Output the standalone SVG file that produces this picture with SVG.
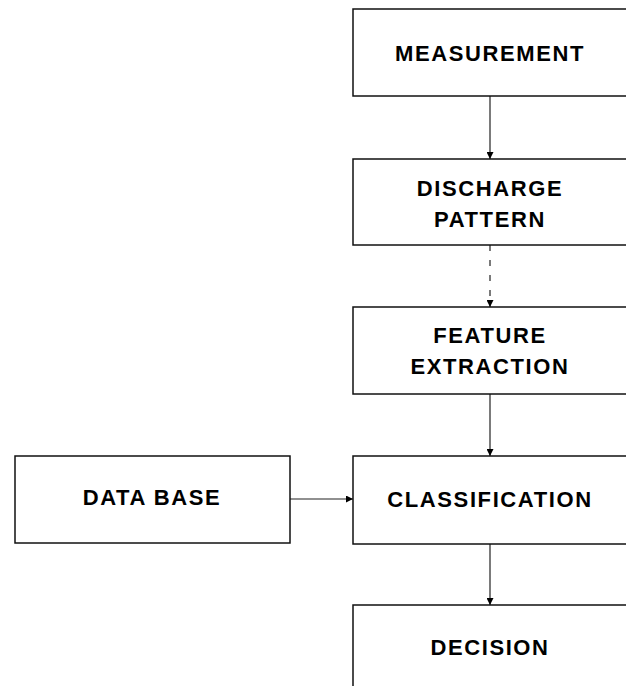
<svg xmlns="http://www.w3.org/2000/svg" width="626" height="686" viewBox="0 0 626 686">
<style>
.box{fill:#fff;stroke:#111;stroke-width:1.5}
.t{font-family:"Liberation Sans",Arial,sans-serif;font-weight:bold;font-size:22px;letter-spacing:1.6px;fill:#000;text-anchor:middle}
.c{stroke:#222;stroke-width:1.2;fill:none}
</style>
<defs>
<marker id="ah" viewBox="0 0 10 10" refX="10" refY="5" markerWidth="7" markerHeight="7" markerUnits="userSpaceOnUse" orient="auto">
<path d="M0,0 L10,5 L0,10 z" fill="#000"/>
</marker>
</defs>
<rect width="626" height="686" fill="#fff"/>
<g id="connectors">
<line class="c" x1="490" y1="96" x2="490" y2="159" marker-end="url(#ah)"/>
<line class="c" x1="490" y1="245" x2="490" y2="307" stroke-dasharray="6,9" marker-end="url(#ah)"/>
<line class="c" x1="490" y1="394" x2="490" y2="456" marker-end="url(#ah)"/>
<line class="c" x1="490" y1="544" x2="490" y2="605" marker-end="url(#ah)"/>
<line class="c" x1="290" y1="499" x2="353" y2="499" marker-end="url(#ah)"/>
</g>
<g id="measurement">
<rect class="box" x="353" y="9" width="274" height="87"/>
<text class="t" x="490" y="61">MEASUREMENT</text>
</g>
<g id="discharge">
<rect class="box" x="353" y="159" width="274" height="86"/>
<text class="t" x="490" y="196">DISCHARGE</text>
<text class="t" x="490" y="227">PATTERN</text>
</g>
<g id="feature">
<rect class="box" x="353" y="307" width="274" height="87"/>
<text class="t" x="490" y="343">FEATURE</text>
<text class="t" x="490" y="374">EXTRACTION</text>
</g>
<g id="classification">
<rect class="box" x="353" y="456" width="274" height="88"/>
<text class="t" x="490" y="507">CLASSIFICATION</text>
</g>
<g id="decision">
<rect class="box" x="353" y="605" width="274" height="90"/>
<text class="t" x="490" y="655">DECISION</text>
</g>
<g id="database">
<rect class="box" x="15" y="456" width="275" height="87"/>
<text class="t" x="152" y="505">DATA BASE</text>
</g>
</svg>
